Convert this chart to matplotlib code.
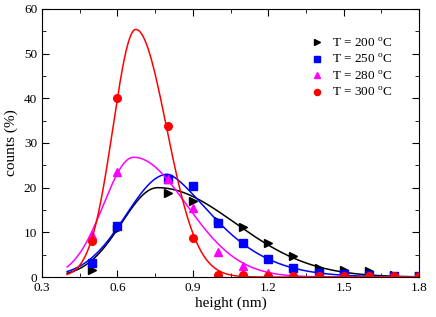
import numpy as np
import matplotlib
matplotlib.use("Agg")
import matplotlib.pyplot as plt

plt.rcParams['font.family'] = ['Liberation Serif', 'DejaVu Serif']
plt.rcParams['mathtext.fontset'] = 'custom'
plt.rcParams['mathtext.rm'] = 'Liberation Serif'

# measured points, height (nm) vs counts (%)
height = [0.5, 0.6, 0.8, 0.9, 1.0, 1.1, 1.2, 1.3, 1.4, 1.5, 1.6, 1.7, 1.8]
counts_200 = [1.5, 10.8, 18.8, 17.0, 12.5, 11.1, 7.7, 4.6, 2.1, 1.6, 1.4, 0.5, 0.3]
counts_250 = [3.2, 11.5, 22.0, 20.3, 12.2, 7.6, 4.1, 2.1, 1.0, 0.6, 0.4, 0.3, 0.2]
counts_280 = [9.5, 23.5, 22.0, 15.5, 5.5, 2.5, 1.0, 0.3, 0.3, 0.2, 0.2, 0.2, 0.2]
counts_300 = [8.0, 40.0, 33.7, 8.7, 0.5, 0.5, 0.3, 0.2, 0.2, 0.2, 0.2, 0.2, 0.2]

# fit curves: peak, centre, left width, right width, right exponent
fit_200 = [20.0, 0.76, 0.143, 0.307, 2.0]
fit_250 = [23.0, 0.80, 0.165, 0.174, 1.5]
fit_280 = [26.8, 0.664, 0.119, 0.21, 2.0]
fit_300 = [55.4, 0.673, 0.0904, 0.122, 2.0]

labels = ['T = 200 $^{\\mathrm{o}}$C', 'T = 250 $^{\\mathrm{o}}$C',
          'T = 280 $^{\\mathrm{o}}$C', 'T = 300 $^{\\mathrm{o}}$C']


def fit_curve(x, p):
    a, xc, sl, sr, pr = p
    dx = x - xc
    left = a * np.exp(-0.5 * (dx / sl) ** 2)
    right = a * np.exp(-0.5 * np.abs(dx / sr) ** pr)
    return np.where(dx < 0, left, right)


fig = plt.figure(figsize=(4.36, 3.17), dpi=100)
ax = fig.add_axes([0.0963, 0.126, 0.865, 0.846])

xs = np.linspace(0.4, 1.8, 400)
series = [
    (counts_200, fit_200, 'black', '>'),
    (counts_250, fit_250, '#0000ff', 's'),
    (counts_280, fit_280, '#ff00ff', '^'),
    (counts_300, fit_300, '#ff0000', 'o'),
]
for (c, f, col, m), lab in zip(series, labels):
    ax.plot(xs, fit_curve(xs, f), color=col, lw=1.1)
    ax.plot(height, c, linestyle='none', marker=m, color=col, ms=5.5, label=lab)

ax.set_xlim(0.3, 1.8)
ax.set_ylim(0, 60)
ax.set_xticks([0.3, 0.6, 0.9, 1.2, 1.5, 1.8])
ax.set_xticks(np.arange(0.45, 1.8, 0.3), minor=True)
ax.set_yticks(range(0, 61, 10))
ax.set_yticks(range(5, 60, 10), minor=True)
ax.tick_params(which='both', direction='in', top=True, right=True, labelsize=9.5)
ax.tick_params(which='major', length=5)
ax.tick_params(which='minor', length=3)
ax.set_xlabel('height (nm)', fontsize=11, labelpad=2)
ax.set_ylabel('counts (%)', fontsize=11, labelpad=4)

ax.legend(loc='upper right', bbox_to_anchor=(0.96, 0.94), frameon=False,
          fontsize=9.5, handlelength=1.0, handletextpad=0.6, labelspacing=0.25,
          markerscale=0.8)

fig.savefig('out.png', dpi=100)
